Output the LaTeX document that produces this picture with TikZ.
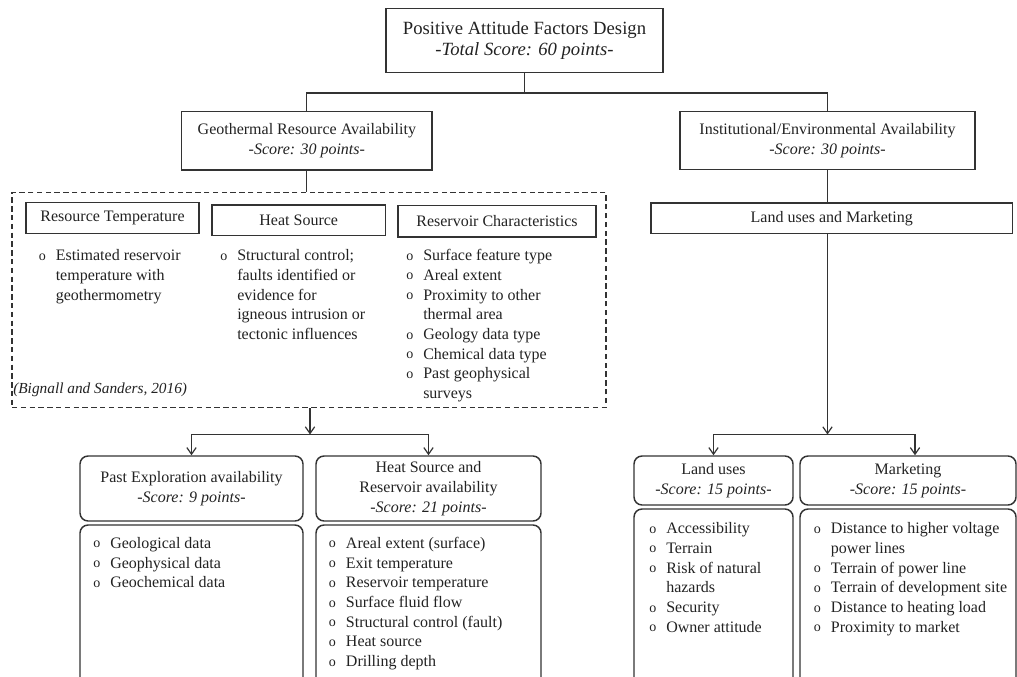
\documentclass[tikz,border=0pt]{standalone}
\usepackage{fontspec}
\setmainfont{Liberation Serif}
\usetikzlibrary{arrows.meta}
\definecolor{ink}{HTML}{222222}
\definecolor{rule}{HTML}{333333}
% list bullet and the indent of a wrapped line
\newcommand\itm{\makebox[12.75pt][l]{\raisebox{0.3pt}{\fontsize{10.5}{10}\selectfont o}}}
\newcommand\cnt{\hspace*{12.75pt}}
\begin{document}
\begin{tikzpicture}[x=0.75pt,y=-0.75pt,
  every node/.style={text=ink},
  frame/.style 2 args={draw=rule, line width=1.1pt, inner sep=0pt, align=center,
    minimum width=#1*0.75pt, minimum height=#2*0.75pt,
    font=\fontsize{12}{15}\selectfont},
  rframe/.style 2 args={frame={#1}{#2}, rounded corners=6pt},
  lst/.style={inner sep=0pt, anchor=north west, align=left,
    font=\fontsize{12}{14.8}\selectfont},
  link/.style={draw=rule, line width=0.9pt},
  arr/.style={link, -{Straight Barb[length=5pt,width=7pt,line width=0.9pt]}},
]
\useasboundingbox (0,0) rectangle (1017,677);
\clip (0,0) rectangle (1017,677);

% top level
\node[frame={277}{64.4}, font=\fontsize{14}{16.3}\selectfont] (title) at (524.5,40.5)
  {Positive Attitude Factors Design\\\textit{-Total Score: 60 points-}};
\node[frame={250.3}{58.3}] (geo) at (306.85,140.85)
  {Geothermal Resource Availability\\\textit{-Score: 30 points-}};
\node[frame={295}{57.6}] (inst) at (827.5,140.5)
  {Institutional/Environmental Availability\\\textit{-Score: 30 points-}};

% geothermal criteria group
\node[draw=rule, line width=0.9pt, dash pattern=on 4pt off 2.6pt, inner sep=0pt,
  minimum width=594*0.75pt, minimum height=215*0.75pt] (dash) at (309,300) {};
\node[frame={173}{30.6}] (rt) at (112.5,218) {Resource Temperature};
\node[frame={173.5}{30.5}] (hs) at (298.75,220.25) {Heat Source};
\node[frame={198}{31.5}] (rc) at (497,221.25) {Reservoir Characteristics};
\node[lst] (rtl) at (38.5,246.5) {\begin{tabular}{@{}l@{}}
  \itm Estimated reservoir\\ \cnt temperature with\\ \cnt geothermometry\end{tabular}};
\node[lst] (hsl) at (220,246.5) {\begin{tabular}{@{}l@{}}
  \itm Structural control;\\ \cnt faults identified or\\ \cnt evidence for\\
  \cnt igneous intrusion or\\ \cnt tectonic influences\end{tabular}};
\node[lst] (rcl) at (406,246.5) {\begin{tabular}{@{}l@{}}
  \itm Surface feature type\\ \itm Areal extent\\ \itm Proximity to other\\
  \cnt thermal area\\ \itm Geology data type\\ \itm Chemical data type\\
  \itm Past geophysical\\ \cnt surveys\end{tabular}};
\node[inner sep=0pt, anchor=west, font=\fontsize{11.5}{13}\selectfont\itshape] (cite)
  at (13,390) {(Bignall and Sanders, 2016)};

% institutional branch
\node[frame={361.5}{30.5}] (lm) at (831.75,218.25) {Land uses and Marketing};

% score groups
\node[rframe={223}{65}] (pasth) at (191.5,488.5)
  {Past Exploration availability\\\textit{-Score: 9 points-}};
\node[rframe={225}{65}] (hsh) at (428.5,488.5)
  {Heat Source and\\Reservoir availability\\\textit{-Score: 21 points-}};
\node[rframe={223}{175}] (pastb) at (191.5,612.5) {};
\node[rframe={225}{175}] (hsb) at (428.5,612.5) {};
\node[rframe={159}{49}] (landh) at (713.5,480.5)
  {Land uses\\\textit{-Score: 15 points-}};
\node[rframe={216}{49}] (mkth) at (908,480.5)
  {Marketing\\\textit{-Score: 15 points-}};
\node[rframe={159}{191}] (landb) at (713.5,604.5) {};
\node[rframe={216}{191}] (mktb) at (908,604.5) {};

\node[lst] (pastl) at (93,534.2) {\begin{tabular}{@{}l@{}}
  \itm Geological data\\ \itm Geophysical data\\ \itm Geochemical data\end{tabular}};
\node[lst] (hsbl) at (328.7,534.2) {\begin{tabular}{@{}l@{}}
  \itm Areal extent (surface)\\ \itm Exit temperature\\ \itm Reservoir temperature\\
  \itm Surface fluid flow\\ \itm Structural control (fault)\\ \itm Heat source\\
  \itm Drilling depth\end{tabular}};
\node[lst] (landl) at (649,519.5) {\begin{tabular}{@{}l@{}}
  \itm Accessibility\\ \itm Terrain\\ \itm Risk of natural\\ \cnt hazards\\
  \itm Security\\ \itm Owner attitude\end{tabular}};
\node[lst] (mktl) at (813.7,519.5) {\begin{tabular}{@{}l@{}}
  \itm Distance to higher voltage\\ \cnt power lines\\ \itm Terrain of power line\\
  \itm Terrain of development site\\ \itm Distance to heating load\\
  \itm Proximity to market\end{tabular}};

% connectors
\coordinate (j1) at (524.5,93);
\draw[link] (title.south) -- (j1);
\draw[link] (geo.north) |- (j1) -| (inst.north);
\draw[link] (geo.south) -- (geo.south |- dash.north);
\draw[link] (inst.south) -- (inst.south |- lm.north);

\coordinate (j2) at (310,434.5);
\draw[arr] (dash.south -| j2) -- (j2);
\draw[arr] (j2) -| (pasth.north);
\draw[arr] (j2) -| (hsh.north);

\coordinate (j3) at (827.5,434.5);
\draw[arr] (lm.south -| j3) -- (j3);
\draw[arr] (j3) -| (landh.north);
\draw[arr] (j3) -| ([xshift=5.25pt]mkth.north);
\end{tikzpicture}
\end{document}
